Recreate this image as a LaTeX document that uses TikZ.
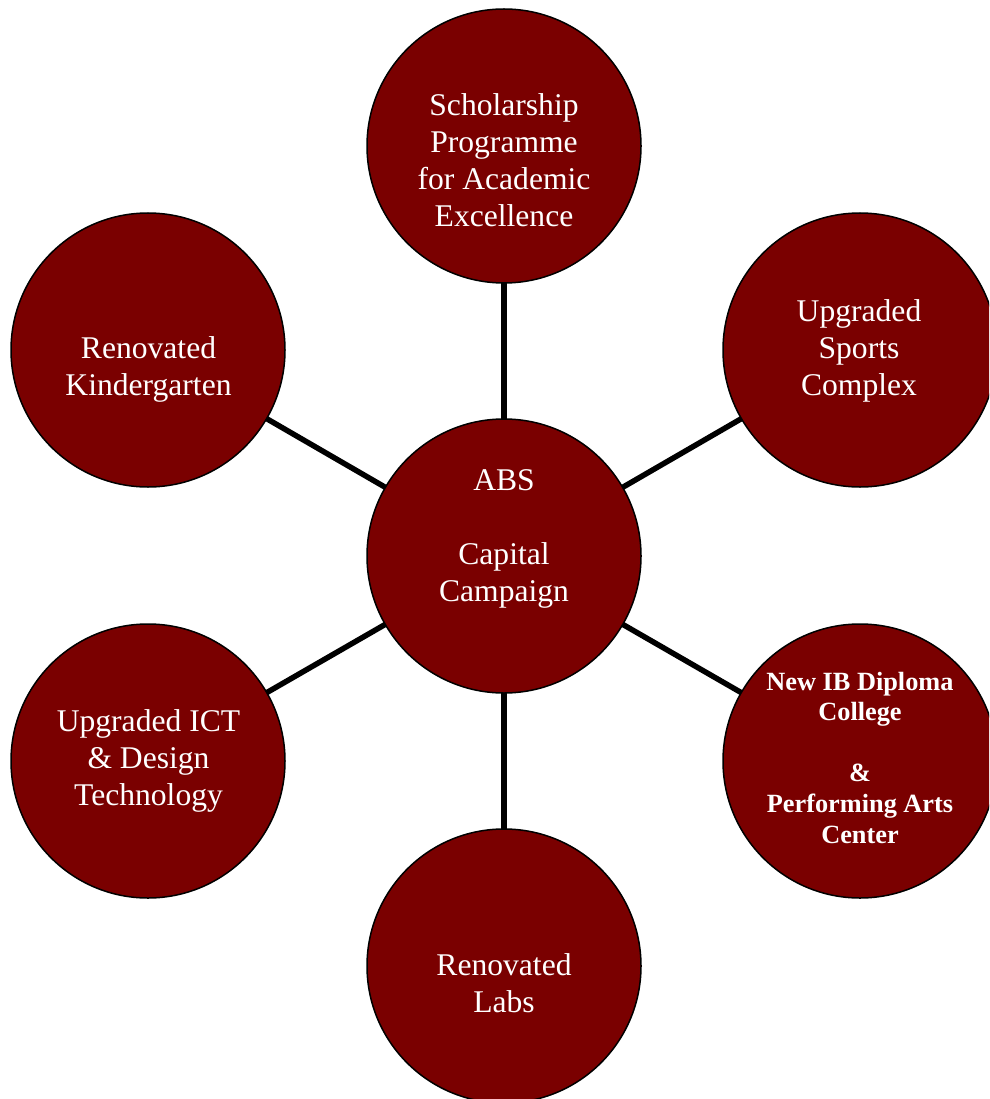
\documentclass[tikz,border=0pt]{standalone}
\usepackage{fontspec}
\setmainfont{Liberation Serif}
\definecolor{maroonfill}{RGB}{122,0,0}
\tikzset{
  bubble/.style={circle, draw=black, line width=1.5pt, fill=maroonfill, minimum size=274pt, inner sep=0pt},
  link/.style={line width=5.5pt, draw=black},
  lbl/.style={text=white, align=center, anchor=base, inner sep=0pt, font=\fontsize{31.6}{37}\selectfont},
  blbl/.style={text=white, align=center, anchor=base, inner sep=0pt, font=\fontsize{26.3}{30.6}\selectfont\bfseries}
}
\begin{document}
\begin{tikzpicture}[x=1pt,y=-1pt]
\useasboundingbox (0,0) rectangle (989,1099);
\clip (0,0) rectangle (989,1099);
\coordinate (pc) at (504,556);
\coordinate (pt) at (504,146);
\coordinate (pul) at (148,350);
\coordinate (pur) at (860,350);
\coordinate (pll) at (148,761);
\coordinate (plr) at (860,761);
\coordinate (pb) at (504,966);
\draw[link] (pc) -- (pt);
\draw[link] (pc) -- (pul);
\draw[link] (pc) -- (pur);
\draw[link] (pc) -- (pll);
\draw[link] (pc) -- (plr);
\draw[link] (pc) -- (pb);
\node[bubble] (c) at (pc) {};
\node[bubble] (t) at (pt) {};
\node[bubble] (ul) at (pul) {};
\node[bubble] (ur) at (pur) {};
\node[bubble] (ll) at (pll) {};
\node[bubble] (lr) at (plr) {};
\node[bubble] (b) at (pb) {};
\node[lbl] (tc) at (504,601) {ABS\\\mbox{}\\Capital\\Campaign};
\node[lbl] (tt) at (504,227) {Scholarship\\Programme\\for Academic\\Excellence};
\node[lbl] (tul) at (148.5,395) {Renovated\\Kindergarten};
\node[lbl] (tur) at (859,395) {Upgraded\\Sports\\Complex};
\node[lbl] (tll) at (148.5,805) {Upgraded ICT\\\& Design\\Technology};
\node[blbl] (tlr) at (860,843) {New IB Diploma\\College\\\mbox{}\\\&\\Performing Arts\\Center};
\node[lbl] (tb) at (504,1012) {Renovated\\Labs};
\end{tikzpicture}
\end{document}
